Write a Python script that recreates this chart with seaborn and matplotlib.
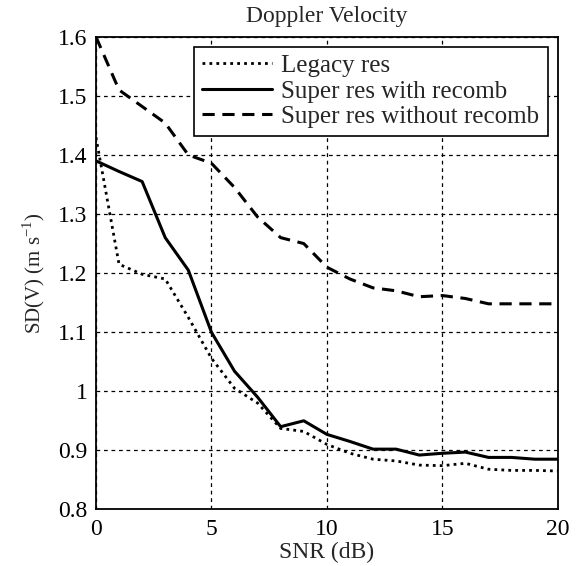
"""Doppler velocity SD versus SNR, three processing modes."""

import matplotlib
matplotlib.use("Agg")
import matplotlib.pyplot as plt
import pandas as pd
import seaborn as sns

snr_db = list(range(0, 21))
legacy_res = [1.43, 1.215, 1.198, 1.19, 1.125, 1.056, 1.005, 0.98, 0.937, 0.932, 0.91,
              0.895, 0.885, 0.882, 0.875, 0.874, 0.878, 0.868, 0.866, 0.866, 0.865]
super_recomb = [1.39, 1.372, 1.355, 1.26, 1.205, 1.10, 1.034, 0.99, 0.94, 0.95, 0.927,
                0.915, 0.902, 0.902, 0.892, 0.895, 0.897, 0.888, 0.888, 0.885, 0.885]
super_no_recomb = [1.60, 1.51, 1.482, 1.454, 1.40, 1.386, 1.345, 1.295, 1.26, 1.25, 1.21,
                   1.19, 1.175, 1.17, 1.16, 1.162, 1.157, 1.148, 1.148, 1.148, 1.148]
series_names = ["Legacy res", "Super res with recomb", "Super res without recomb"]

sns.set_style("white")
plt.rcParams["font.family"] = ["Liberation Serif", "DejaVu Serif"]
plt.rcParams["mathtext.fontset"] = "custom"
plt.rcParams["mathtext.rm"] = "Liberation Serif"

df = pd.DataFrame({
    "snr": snr_db * 3,
    "sd": legacy_res + super_recomb + super_no_recomb,
    "series": [n for n in series_names for _ in snr_db],
})

fig = plt.figure(figsize=(5.78, 5.66), dpi=100)
ax = fig.add_axes([0.166, 0.100, 0.799, 0.835])

styles = {"Legacy res": (0, (1, 1.5)), "Super res with recomb": "-",
          "Super res without recomb": (0, (4, 2.5))}
widths = {"Legacy res": 2.0, "Super res with recomb": 2.2, "Super res without recomb": 2.2}
for name in series_names:
    sub = df[df["series"] == name]
    sns.lineplot(data=sub, x="snr", y="sd", ax=ax, color="black",
                 linestyle=styles[name], linewidth=widths[name], label=name)

ax.set_xlim(0, 20)
ax.set_ylim(0.8, 1.6)
ax.set_xticks([0, 5, 10, 15, 20])
ax.set_yticks([0.8, 0.9, 1.0, 1.1, 1.2, 1.3, 1.4, 1.5, 1.6])
ax.set_yticklabels(["0.8", "0.9", "1", "1.1", "1.2", "1.3", "1.4", "1.5", "1.6"])
ax.grid(True, color="black", linestyle=(0, (3, 3)), linewidth=0.9)
ax.tick_params(direction="in", length=4, labelsize=17, colors="black")
ax.tick_params(axis="x", pad=7)
ax.tick_params(axis="y", pad=6)
for sp in ax.spines.values():
    sp.set_color("black")
    sp.set_linewidth(1.3)

ax.set_title("Doppler Velocity", fontsize=17, pad=11)
ax.set_xlabel("SNR (dB)", fontsize=17, labelpad=1)
ax.set_ylabel("SD(V) (m s$^{-1}$)", fontsize=15, labelpad=8)

leg = ax.legend(loc="upper right", bbox_to_anchor=(0.978, 0.979), fontsize=18,
                frameon=True, fancybox=False, edgecolor="black", framealpha=1,
                handlelength=2.8, borderpad=0.32, labelspacing=0.12, handletextpad=0.36,
                borderaxespad=0.0)
leg.get_frame().set_linewidth(1.2)

fig.savefig("out.png", dpi=100)
